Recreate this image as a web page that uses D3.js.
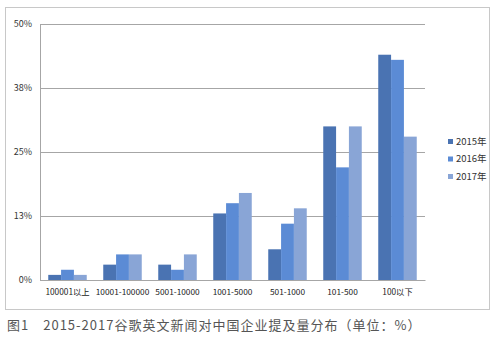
<!DOCTYPE html>
<html>
<head>
<meta charset="utf-8">
<script src="https://cdn.jsdelivr.net/npm/d3@7"></script>
<style>
  body { margin: 0; background: #fff; }
  text { font-family: "Noto Sans CJK SC", "Open Sans", sans-serif; }
</style>
</head>
<body>
<div id="chart"></div>
<script>
const categories = ["100001以上", "10001-100000", "5001-10000", "1001-5000", "501-1000", "101-500", "100以下"];
const years = ["2015年", "2016年", "2017年"];
const v2015 = [1, 3, 3, 13, 6, 30, 44];
const v2016 = [2, 5, 2, 15, 11, 22, 43];
const v2017 = [1, 5, 5, 17, 14, 30, 28];
const ticks = [0, 12.5, 25, 37.5, 50];
const tickLabels = ["0%", "13%", "25%", "38%", "50%"];

let width = 497, height = 351,
  margin = ({ top: 24, right: 72, bottom: 71, left: 40 });

const series = [v2015, v2016, v2017];
const colors = ["#4a73b2", "#5b8bd5", "#89a5d6"];

const svg = d3.select("#chart")
  .append("svg")
  .attr("width", width)
  .attr("height", height);

// outer frame
svg.append("rect")
  .attr("x", 5.5).attr("y", 7.5)
  .attr("width", 484).attr("height", 302)
  .attr("fill", "none")
  .attr("stroke", "#c8c8c8");

let x0 = d3.scaleBand()
  .domain(categories)
  .range([margin.left, width - margin.right])
  .paddingInner(0.3)
  .paddingOuter(0.15);

let x1 = d3.scaleBand()
  .domain(years)
  .range([0, x0.bandwidth()]);

let y = d3.scaleLinear()
  .domain([0, 50])
  .range([height - margin.bottom, margin.top]);

// gridlines + y labels
svg.append("g")
  .attr("transform", `translate(${margin.left},0)`)
  .call(d3.axisLeft(y)
    .tickValues(ticks)
    .tickSize(-(width - margin.right - margin.left))
    .tickPadding(8)
    .tickFormat((d, i) => tickLabels[i]))
  .call(g => g.select(".domain").remove())
  .call(g => g.selectAll(".tick line").attr("stroke", "#a6a6a6"))
  .call(g => g.selectAll(".tick text")
    .attr("fill", "#333")
    .attr("font-size", 9));

// left axis line
svg.append("line")
  .attr("x1", margin.left + 0.5).attr("x2", margin.left + 0.5)
  .attr("y1", y(50)).attr("y2", y(0))
  .attr("stroke", "#a6a6a6");

// bars
series.forEach((vals, s) => {
  svg.append("g")
    .attr("fill", colors[s])
    .selectAll("rect")
    .data(vals)
    .join("rect")
    .attr("x", (d, i) => x0(categories[i]) + x1(years[s]))
    .attr("y", d => y(d))
    .attr("width", x1.bandwidth())
    .attr("height", d => y(0) - y(d));
});

// x labels
svg.append("g")
  .attr("transform", `translate(0,${y(0)})`)
  .call(d3.axisBottom(x0).tickSize(0).tickPadding(9))
  .call(g => g.select(".domain").attr("stroke", "#a6a6a6"))
  .call(g => g.selectAll(".tick text")
    .attr("fill", "#222")
    .attr("font-size", 8.3));

// legend
let legend = svg.append("g")
  .attr("transform", "translate(448,142)");

years.forEach((yr, i) => {
  legend.append("rect")
    .attr("x", 0).attr("y", i * 17.5 - 3)
    .attr("width", 5).attr("height", 5)
    .attr("fill", colors[i]);
  legend.append("text")
    .attr("x", 8).attr("y", i * 17.5)
    .attr("dominant-baseline", "middle")
    .attr("font-size", 9.5)
    .attr("fill", "#333")
    .text(yr);
});

// caption
svg.append("text")
  .attr("x", 7).attr("y", 330)
  .attr("font-size", 13)
  .attr("letter-spacing", 1)
  .attr("fill", "#555")
  .text("图1　2015-2017谷歌英文新闻对中国企业提及量分布（单位：%）");
</script>
</body>
</html>
